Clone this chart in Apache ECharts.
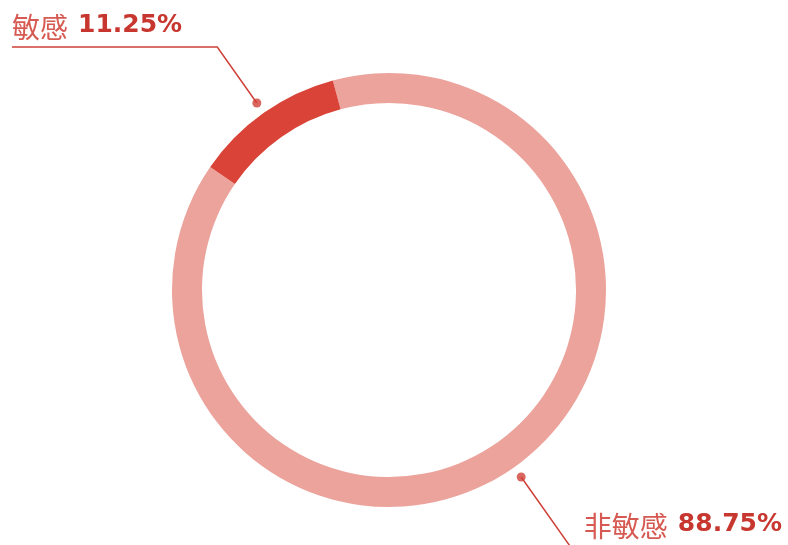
<!DOCTYPE html>
<html>
<head>
<meta charset="utf-8">
<script src="https://cdn.jsdelivr.net/npm/echarts@6/dist/echarts.min.js"></script>
<style>
  html, body { margin: 0; padding: 0; background: #fff; }
  #main { width: 788px; height: 545px; }
</style>
</head>
<body>
<div id="main"></div>
<script>
// 数据
const names = ['非敏感', '敏感'];
const values = [88.75, 11.25];
const colors = ['#eba39c', '#da4438'];

const center = [389, 290];
const outerR = 217;
const dotGap = 12;
const startAngle = 105;

const chart = echarts.init(document.getElementById('main'));

// 每块中点，用来放小圆点
let acc = 0;
const dots = values.map(v => {
    const mid = acc + v / 2;
    acc += v;
    return [1, mid];
});

const label = {
    show: true,
    formatter: p => '{n|' + p.name + '}{v|' + p.value.toFixed(2) + '%}',
    rich: {
        n: { fontSize: 28, color: '#d65a52', fontFamily: 'Noto Sans CJK SC', padding: [0, 10, 0, 0] },
        v: { fontSize: 25, fontWeight: 'bold', color: '#c8372f', fontFamily: 'DejaVu Sans', padding: [0, 0, 2, 0] }
    }
};

chart.setOption({
    animation: false,
    polar: { center: center, radius: outerR + dotGap },
    angleAxis: { type: 'value', min: 0, max: 100, startAngle: startAngle, clockwise: true, show: false },
    radiusAxis: { type: 'value', min: 0, max: 1, show: false },
    series: [{
        type: 'pie',
        center: center,
        radius: [187, outerR],
        startAngle: startAngle,
        clockwise: true,
        avoidLabelOverlap: false,
        silent: true,
        data: names.map((n, i) => ({ name: n, value: values[i], itemStyle: { color: colors[i] } })),
        label: label,
        labelLine: { show: true, length: 20, length2: 20, lineStyle: { color: '#cf4138', width: 1.5 } },
        labelLayout: function (params) {
            const w = chart.getWidth(), h = chart.getHeight();
            const pts = params.labelLinePoints;
            const p0 = pts[0], p1 = pts[1];
            const dx = p1[0] - p0[0], dy = p1[1] - p0[1];
            const len = Math.sqrt(dx * dx + dy * dy) || 1;
            const ux = dx / len, uy = dy / len;
            const start = [p0[0] + ux * dotGap, p0[1] + uy * dotGap];
            const top = start[1] < center[1];
            const lineY = top ? 47 : h + 2;
            const t = (lineY - start[1]) / uy;
            const elbow = [start[0] + ux * t, lineY];
            const endX = top ? 12 : w;
            return {
                x: top ? 12 : w - 6,
                y: top ? 41 : 540,
                align: top ? 'left' : 'right',
                verticalAlign: 'bottom',
                labelLinePoints: [start, elbow, [endX, lineY]]
            };
        }
    }, {
        type: 'scatter',
        coordinateSystem: 'polar',
        symbolSize: 9,
        silent: true,
        itemStyle: { color: '#cf4138' },
        data: dots
    }]
});
</script>
</body>
</html>
